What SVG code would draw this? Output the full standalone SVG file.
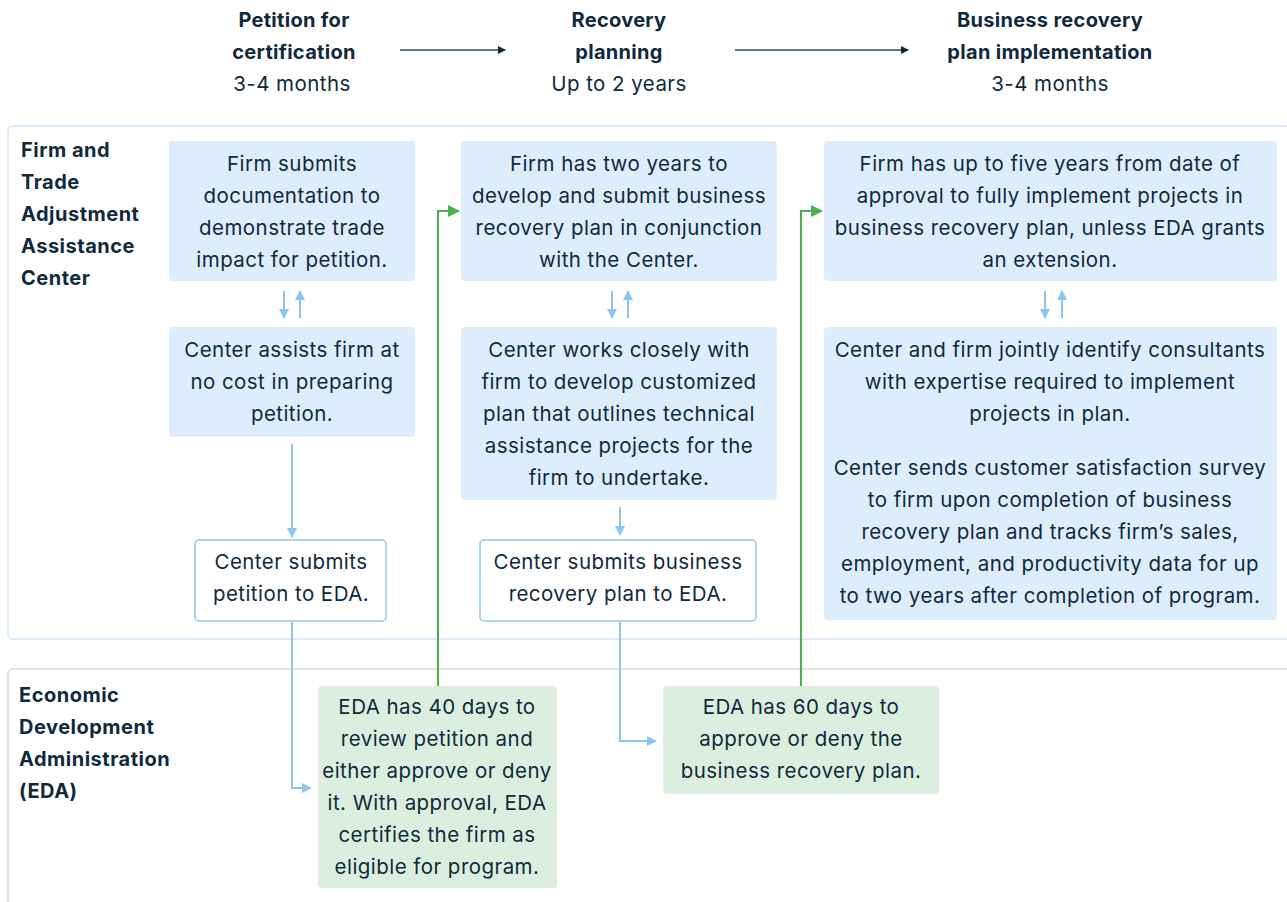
<svg xmlns="http://www.w3.org/2000/svg" width="1287" height="902" viewBox="0 0 1287 902">
<defs>
<style>
text{font-family:Inter,"Noto Sans",sans-serif;font-size:20.5px;letter-spacing:0.45px;fill:#0f2a3d;text-anchor:middle}
.b{font-weight:700;font-size:20px;letter-spacing:0.3px}
.l{text-anchor:start;font-weight:700;font-size:20px;letter-spacing:0.5px}
.bf{fill:#deedfb}
.wf{fill:#fff;stroke:#8fc6f3;stroke-width:1.5}
.gf{fill:#dcefdf}
.ba{fill:none;stroke:#8cc4f2;stroke-width:2}
.ga{fill:none;stroke:#4cb050;stroke-width:2}
.ha{fill:none;stroke:#2c4a5e;stroke-width:1.5}
</style>
<marker id="mb" markerWidth="10" markerHeight="10" refX="9" refY="5" orient="auto" markerUnits="userSpaceOnUse"><path d="M0,0 L10,5 L0,10 z" fill="#8cc4f2"/></marker>
<marker id="mg" markerWidth="12" markerHeight="12" refX="11" refY="6" orient="auto" markerUnits="userSpaceOnUse"><path d="M0,0 L12,6 L0,12 z" fill="#4cb050"/></marker>
<marker id="mh" markerWidth="8" markerHeight="8" refX="7" refY="4" orient="auto" markerUnits="userSpaceOnUse"><path d="M0,0 L8,4 L0,8 z" fill="#10283a"/></marker>
</defs>
<rect width="1287" height="902" fill="#fff"/>
<g id="lanes">
<rect x="8" y="126" width="1300" height="513" rx="5" fill="none" stroke="#dcebfa" stroke-width="2"/>
<rect x="8" y="669" width="1300" height="260" rx="5" fill="none" stroke="#d6ebd7" stroke-width="2"/>
<text class="l" x="21" y="157">Firm and</text>
<text class="l" x="21" y="189">Trade</text>
<text class="l" x="21" y="221">Adjustment</text>
<text class="l" x="21" y="253">Assistance</text>
<text class="l" x="21" y="285">Center</text>
<text class="l" x="19" y="702">Economic</text>
<text class="l" x="19" y="734">Development</text>
<text class="l" x="19" y="766">Administration</text>
<text class="l" x="19" y="798">(EDA)</text>
</g>
<g id="header">
<text class="b" x="294" y="27">Petition for</text>
<text class="b" x="294" y="59">certification</text>
<text x="292" y="91">3-4 months</text>
<text class="b" x="619" y="27">Recovery</text>
<text class="b" x="619" y="59">planning</text>
<text x="619" y="91">Up to 2 years</text>
<text class="b" x="1050" y="27">Business recovery</text>
<text class="b" x="1050" y="59">plan implementation</text>
<text x="1050" y="91">3-4 months</text>
</g>
<g id="connectors">
<line class="ha" x1="400" y1="50" x2="505" y2="50" marker-end="url(#mh)"/>
<line class="ha" x1="735" y1="50" x2="908" y2="50" marker-end="url(#mh)"/>
<line class="ba" x1="284" y1="291" x2="284" y2="318" marker-end="url(#mb)"/>
<line class="ba" x1="300" y1="318" x2="300" y2="291" marker-end="url(#mb)"/>
<line class="ba" x1="612" y1="291" x2="612" y2="318" marker-end="url(#mb)"/>
<line class="ba" x1="628" y1="318" x2="628" y2="291" marker-end="url(#mb)"/>
<line class="ba" x1="1045" y1="291" x2="1045" y2="318" marker-end="url(#mb)"/>
<line class="ba" x1="1062" y1="318" x2="1062" y2="291" marker-end="url(#mb)"/>
<line class="ba" x1="292" y1="444" x2="292" y2="537" marker-end="url(#mb)"/>
<line class="ba" x1="620" y1="507" x2="620" y2="535" marker-end="url(#mb)"/>
<path class="ba" d="M292,622 V788 H311" marker-end="url(#mb)"/>
<path class="ba" d="M620,622 V741 H656" marker-end="url(#mb)"/>
<path class="ga" d="M438,686 V211 H459" marker-end="url(#mg)"/>
<path class="ga" d="M801,686 V211 H822" marker-end="url(#mg)"/>
</g>
<g id="nA"><rect class="bf" x="169" y="141" width="246" height="140" rx="4"/>
<text x="292" y="171">Firm submits</text><text x="292" y="203">documentation to</text><text x="292" y="235">demonstrate trade</text><text x="292" y="267">impact for petition.</text></g>
<g id="nB"><rect class="bf" x="169" y="327" width="246" height="110" rx="4"/>
<text x="292" y="357">Center assists firm at</text><text x="292" y="389">no cost in preparing</text><text x="292" y="421">petition.</text></g>
<g id="nC"><rect class="wf" x="195" y="540" width="191" height="81" rx="4"/>
<text x="291" y="569">Center submits</text><text x="291" y="601">petition to EDA.</text></g>
<g id="nD"><rect class="bf" x="461" y="141" width="316" height="140" rx="4"/>
<text x="619" y="171">Firm has two years to</text><text x="619" y="203">develop and submit business</text><text x="619" y="235">recovery plan in conjunction</text><text x="619" y="267">with the Center.</text></g>
<g id="nE"><rect class="bf" x="461" y="327" width="316" height="173" rx="4"/>
<text x="619" y="357">Center works closely with</text><text x="619" y="389">firm to develop customized</text><text x="619" y="421">plan that outlines technical</text><text x="619" y="453">assistance projects for the</text><text x="619" y="485">firm to undertake.</text></g>
<g id="nF"><rect class="wf" x="480" y="540" width="276" height="81" rx="4"/>
<text x="618" y="569">Center submits business</text><text x="618" y="601">recovery plan to EDA.</text></g>
<g id="nG"><rect class="bf" x="824" y="141" width="453" height="140" rx="4"/>
<text x="1050" y="171">Firm has up to five years from date of</text><text x="1050" y="203">approval to fully implement projects in</text><text x="1050" y="235">business recovery plan, unless EDA grants</text><text x="1050" y="267">an extension.</text></g>
<g id="nH"><rect class="bf" x="824" y="327" width="453" height="293" rx="4"/>
<text x="1050" y="357">Center and firm jointly identify consultants</text><text x="1050" y="389">with expertise required to implement</text><text x="1050" y="421">projects in plan.</text>
<text x="1050" y="475">Center sends customer satisfaction survey</text><text x="1050" y="507">to firm upon completion of business</text><text x="1050" y="539">recovery plan and tracks firm’s sales,</text><text x="1050" y="571">employment, and productivity data for up</text><text x="1050" y="603">to two years after completion of program.</text></g>
<g id="nI"><rect class="gf" x="318" y="686" width="239" height="202" rx="4"/>
<text x="437" y="714">EDA has 40 days to</text><text x="437" y="746">review petition and</text><text x="437" y="778">either approve or deny</text><text x="437" y="810">it. With approval, EDA</text><text x="437" y="842">certifies the firm as</text><text x="437" y="874">eligible for program.</text></g>
<g id="nJ"><rect class="gf" x="663" y="686" width="276" height="108" rx="4"/>
<text x="801" y="714">EDA has 60 days to</text><text x="801" y="746">approve or deny the</text><text x="801" y="778">business recovery plan.</text></g>
</svg>
